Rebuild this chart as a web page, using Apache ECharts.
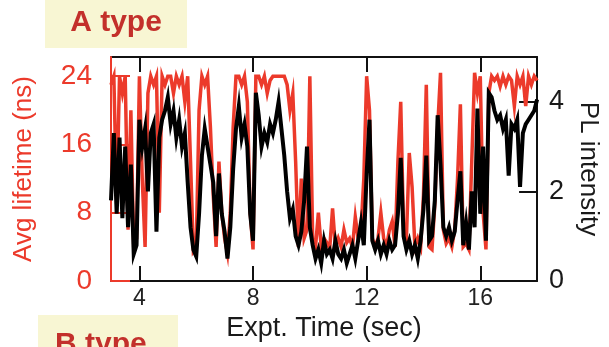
<!DOCTYPE html>
<html>
<head>
<meta charset="utf-8">
<script src="https://cdn.jsdelivr.net/npm/echarts@6/dist/echarts.min.js"></script>
<style>
  html, body { margin: 0; padding: 0; background: #fff; }
  #chart { width: 609px; height: 347px; }
</style>
</head>
<body>
<div id="chart"></div>
<script>
// Experiment time (s), one sample every 0.1 s
const timeSec = [
  3.0,3.1,3.2,3.3,3.4,3.5,3.6,3.7,3.8,3.9,
  4.0,4.1,4.2,4.3,4.4,4.5,4.6,4.7,4.8,4.9,
  5.0,5.1,5.2,5.3,5.4,5.5,5.6,5.7,5.8,5.9,
  6.0,6.1,6.2,6.3,6.4,6.5,6.6,6.7,6.8,6.9,
  7.0,7.1,7.2,7.3,7.4,7.5,7.6,7.7,7.8,7.9,
  8.0,8.1,8.2,8.3,8.4,8.5,8.6,8.7,8.8,8.9,
  9.0,9.1,9.2,9.3,9.4,9.5,9.6,9.7,9.8,9.9,
  10.0,10.1,10.2,10.3,10.4,10.5,10.6,10.7,10.8,10.9,
  11.0,11.1,11.2,11.3,11.4,11.5,11.6,11.7,11.8,11.9,
  12.0,12.1,12.2,12.3,12.4,12.5,12.6,12.7,12.8,12.9,
  13.0,13.1,13.2,13.3,13.4,13.5,13.6,13.7,13.8,13.9,
  14.0,14.1,14.2,14.3,14.4,14.5,14.6,14.7,14.8,14.9,
  15.0,15.1,15.2,15.3,15.4,15.5,15.6,15.7,15.8,15.9,
  16.0,16.1,16.2,16.3,16.4,16.5,16.6,16.7,16.8,16.9,
  17.0,17.1,17.2,17.3,17.4,17.5,17.6,17.7,17.8,17.9,
  18.0
];

// Average fluorescence lifetime (ns)
const avgLifetime = [
  23,24,9,24,22,24,6,20,4,5,
  24,12,4,22,24,23,24,8,24,23,
  24,24,22,24,23,24,21,24,14,3.5,
  4,20,24,23,24,18,10,4,14,8,
  5,3.2,8,18,24,24,23,24,21,8,
  3.7,24,24,23,24,22,23.5,24,24,24,
  24,24,23,20,22,14,4,12,5,6,
  24,5,4,8,4,5,4.5,3.8,8.5,4,
  5,4,6,4.5,5,4,7.5,5,6,12,
  24,20,5,4,5,8,5,4,6,7,
  4,14,21,6,5,15,11,4,5,4,
  10,23,4,3.7,9,18,24.4,6,4.4,5,
  4,6,12,20.7,4,4.4,3.7,14,24.4,22,
  24,8,3.7,22,24,23.5,24,22.8,24,23,
  24,23.5,20.5,24,23,24,20.5,24,23,24,
  23.5
];

// Photoluminescence intensity (a.u.)
const plIntensity = [
  1.8,3.3,1.5,3.2,1.4,3.0,1.2,2.6,0.6,0.8,
  3.6,3.0,3.4,2.0,3.3,3.5,1.1,3.2,3.6,3.8,
  4.1,3.5,3.8,3.2,3.6,3.0,3.3,2.2,1.2,0.7,
  0.55,1.5,2.8,3.4,3.0,2.6,2.2,1.0,2.4,1.5,
  1.1,0.5,1.2,2.5,3.4,3.9,3.2,3.5,3.0,1.5,
  0.9,4.2,3.7,3.0,3.3,3.1,3.5,3.3,3.6,4.0,
  3.4,2.8,2.0,1.4,1.6,1.0,0.8,1.1,1.8,3.0,
  1.2,0.8,0.5,0.7,0.4,0.9,0.6,0.7,0.5,0.9,
  0.6,0.5,0.7,0.4,0.6,0.8,0.5,0.9,1.3,0.8,
  2.4,3.6,0.9,0.7,0.9,0.6,0.8,0.6,0.9,0.7,
  0.8,1.5,2.75,1.0,0.7,0.9,0.6,0.8,0.5,0.9,
  1.6,2.8,0.9,1.0,1.8,3.7,2.6,1.2,1.0,1.2,
  0.9,1.1,1.8,2.45,0.8,1.3,0.7,2.0,1.2,3.85,
  1.5,3.0,0.9,4.2,4.1,3.8,3.6,3.7,3.4,3.6,
  2.35,3.5,3.4,3.6,2.1,3.3,3.5,3.6,3.7,3.8,
  4.05
];

const timeTicks = [4, 8, 12, 16];
const lifetimeTicks = [0, 8, 16, 24];
const intensityTicks = [0, 2, 4];

const RED = '#ec3a2b';
const FONT = '"Liberation Sans", Arial, Helvetica, sans-serif';

const lifetimeData = timeSec.map((t, i) => [t, avgLifetime[i]]);
const intensityData = timeSec.map((t, i) => [t, plIntensity[i]]);

const chart = echarts.init(document.getElementById('chart'), null, { renderer: 'canvas' });

chart.setOption({
  animation: false,
  backgroundColor: '#ffffff',
  grid: { left: 111, right: 58, top: 57, bottom: 62, containLabel: false },
  xAxis: [
    {
      type: 'value', position: 'bottom', min: 3, max: 18, z: 1,
      name: 'Expt. Time (sec)', nameLocation: 'middle', nameGap: 34,
      nameTextStyle: { fontFamily: FONT, fontSize: 27, color: '#1a1a1a' },
      axisLine: { onZero: false, lineStyle: { color: '#111', width: 2 } },
      axisTick: { inside: true, length: 15, customValues: timeTicks, lineStyle: { color: '#111', width: 2 } },
      axisLabel: { customValues: timeTicks, margin: 6, fontFamily: FONT, fontSize: 23, color: '#222' },
      splitLine: { show: false }
    },
    {
      type: 'value', position: 'top', min: 3, max: 18, z: 1,
      axisLine: { onZero: false, lineStyle: { color: '#111', width: 2 } },
      axisTick: { inside: true, length: 15, customValues: timeTicks, lineStyle: { color: '#111', width: 2 } },
      axisLabel: { show: false },
      splitLine: { show: false }
    }
  ],
  yAxis: [
    {
      type: 'value', position: 'left', min: 0, max: 26.25, z: 3,
      name: 'Avg lifetime (ns)', nameLocation: 'middle', nameGap: 74, nameRotate: 90,
      nameTextStyle: { fontFamily: FONT, fontSize: 26, color: RED },
      axisLine: { onZero: false, lineStyle: { color: RED, width: 2 } },
      axisTick: { inside: true, length: 19, customValues: lifetimeTicks, lineStyle: { color: RED, width: 2 } },
      axisLabel: { customValues: lifetimeTicks, margin: 19, fontFamily: FONT, fontSize: 28, color: RED },
      splitLine: { show: false }
    },
    {
      type: 'value', position: 'right', min: 0, max: 5, z: 1,
      name: 'PL intensity', nameLocation: 'middle', nameGap: 26, nameRotate: -90,
      nameTextStyle: { fontFamily: FONT, fontSize: 26, color: '#1a1a1a' },
      axisLine: { onZero: false, lineStyle: { color: '#111', width: 2 } },
      axisTick: { inside: true, length: 18, customValues: intensityTicks, lineStyle: { color: '#111', width: 2 } },
      axisLabel: { customValues: intensityTicks, margin: 12, fontFamily: FONT, fontSize: 27, color: '#1a1a1a', padding: [0, 0, 8, 0] },
      splitLine: { show: false }
    }
  ],
  series: [
    {
      name: 'Avg lifetime', type: 'line', xAxisIndex: 0, yAxisIndex: 0,
      data: lifetimeData, showSymbol: false, symbol: 'none', z: 2,
      lineStyle: { color: RED, width: 3.5, join: 'miter' }
    },
    {
      name: 'PL intensity', type: 'line', xAxisIndex: 0, yAxisIndex: 1,
      data: intensityData, showSymbol: false, symbol: 'none', z: 3,
      lineStyle: { color: '#000', width: 4, join: 'miter' }
    }
  ],
  graphic: [
    { type: 'rect', z: 10, shape: { x: 45, y: 0, width: 142, height: 48 }, style: { fill: '#f8f6d3' } },
    { type: 'text', z: 11, x: 116, y: 23,
      style: { text: 'A type', fill: '#c3302b', font: 'bold 30px ' + FONT, textAlign: 'center', textVerticalAlign: 'middle' } },
    { type: 'rect', z: 10, shape: { x: 38, y: 315, width: 140, height: 40 }, style: { fill: '#f8f6d3' } },
    { type: 'text', z: 11, x: 55, y: 345,
      style: { text: 'B type', fill: '#c3302b', font: 'bold 30px ' + FONT, textAlign: 'left', textVerticalAlign: 'middle' } }
  ]
});
</script>
</body>
</html>
